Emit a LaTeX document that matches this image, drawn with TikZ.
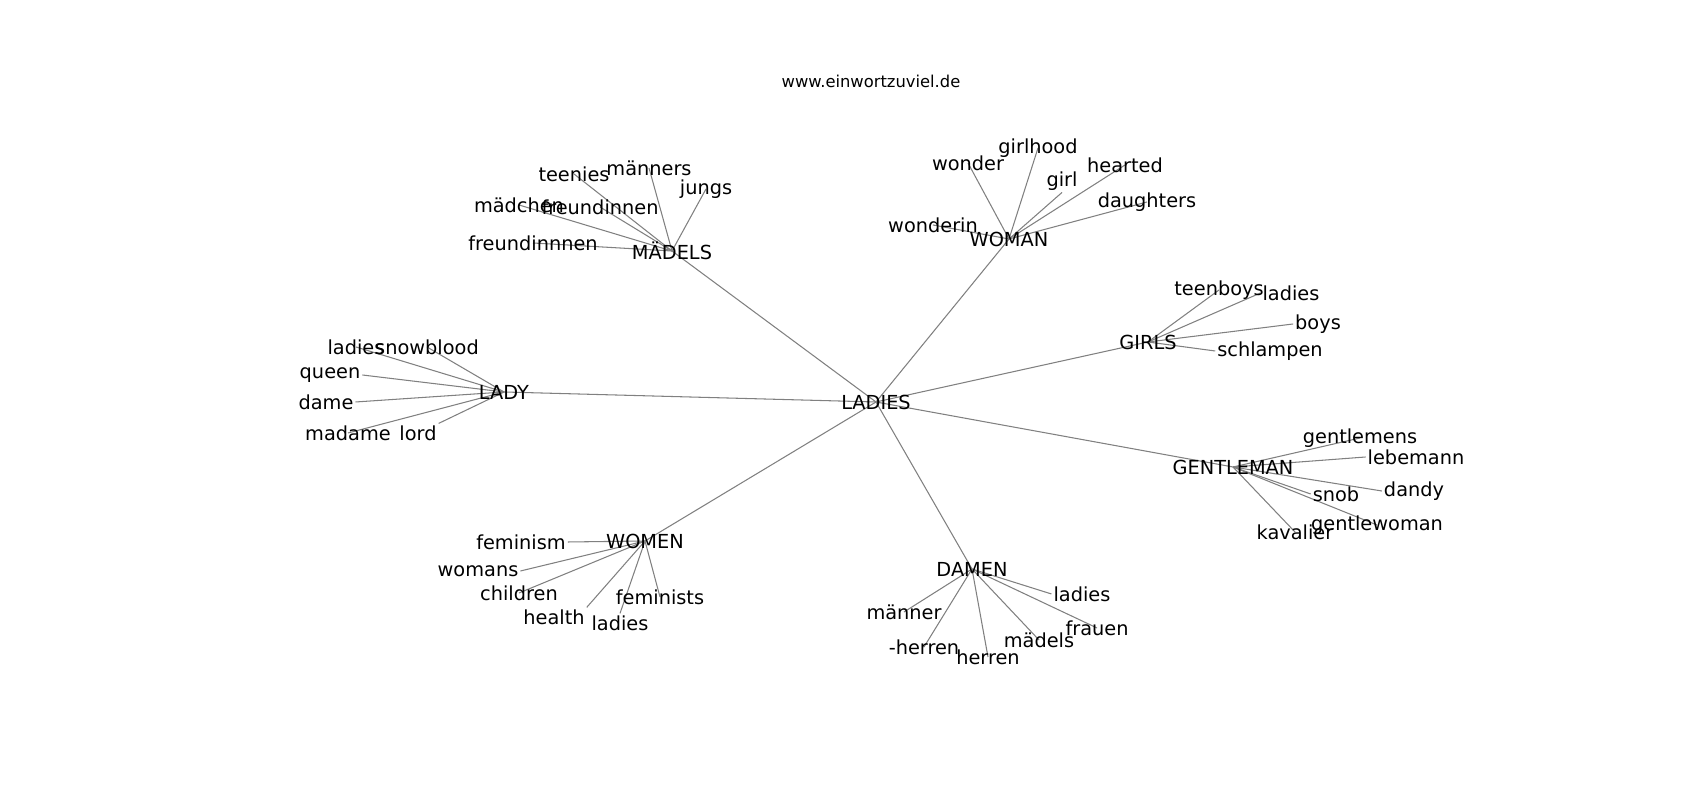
\documentclass[tikz,border=0pt]{standalone}
\usepackage{fontspec}
\setmainfont{DejaVu Sans}
\usepackage{tikz}
\usetikzlibrary{backgrounds}

\tikzset{
  word/.style={inner sep=1pt, font=\fontsize{11}{13}\selectfont},
  link/.style={draw=black!50, line width=0.6pt}
}

\begin{document}
\begin{tikzpicture}

          \useasboundingbox (0,0) rectangle (34,16);

          % Title
          \node[inner sep=0pt, font=\fontsize{9.3}{11}\selectfont] (title) at (17.42,14.38) {www.einwortzuviel.de};

          % Centre and hubs
          \node[word] (ladies) at (17.52,7.96) {LADIES};
          \node[word] (madels) at (13.44,10.98) {MÄDELS};
          \node[word] (woman) at (20.18,11.22) {WOMAN};
          \node[word] (lady) at (10.08,8.16) {LADY};
          \node[word] (girls) at (22.96,9.16) {GIRLS};
          \node[word] (gentleman) at (24.66,6.66) {GENTLEMAN};
          \node[word] (women) at (12.90,5.18) {WOMEN};
          \node[word] (damen) at (19.44,4.62) {DAMEN};

          % Words round MÄDELS
          \node[word] (teenies) at (11.48,12.52) {teenies};
          \node[word] (maenners) at (12.98,12.64) {männers};
          \node[word] (jungs) at (14.12,12.22) {jungs};
          \node[word] (maedchen) at (10.38,11.90) {mädchen};
          \node[word] (freundinnen) at (12.00,11.86) {freundinnen};
          \node[word] (freundinnnen) at (10.66,11.14) {freundinnnen};

          % Words round WOMAN
          \node[word] (wonder) at (19.36,12.74) {wonder};
          \node[word] (girlhood) at (20.76,13.04) {girlhood};
          \node[word] (girl) at (21.24,12.38) {girl};
          \node[word] (hearted) at (22.50,12.70) {hearted};
          \node[word] (daughters) at (22.94,11.96) {daughters};
          \node[word] (wonderin) at (18.66,11.50) {wonderin};

          % Words round LADY
          \node[word] (ladiesL) at (7.12,9.06) {ladies};
          \node[word] (snowblood) at (8.54,9.06) {snowblood};
          \node[word] (queen) at (6.60,8.50) {queen};
          \node[word] (dame) at (6.52,7.96) {dame};
          \node[word] (madame) at (6.96,7.34) {madame};
          \node[word] (lord) at (8.36,7.34) {lord};

          % Words round GIRLS
          \node[word] (teenboys) at (24.38,10.20) {teenboys};
          \node[word] (ladiesG) at (25.82,10.14) {ladies};
          \node[word] (boys) at (26.36,9.52) {boys};
          \node[word] (schlampen) at (25.40,8.98) {schlampen};

          % Words round GENTLEMAN
          \node[word] (gentlemens) at (27.20,7.24) {gentlemens};
          \node[word] (lebemann) at (28.32,6.86) {lebemann};
          \node[word] (dandy) at (28.28,6.18) {dandy};
          \node[word] (snob) at (26.72,6.12) {snob};
          \node[word] (gentlewoman) at (27.54,5.50) {gentlewoman};
          \node[word] (kavalier) at (25.90,5.36) {kavalier};

          % Words round WOMEN
          \node[word] (feminism) at (10.42,5.16) {feminism};
          \node[word] (womans) at (9.56,4.58) {womans};
          \node[word] (children) at (10.38,4.14) {children};
          \node[word] (health) at (11.08,3.66) {health};
          \node[word] (ladiesW) at (12.40,3.54) {ladies};
          \node[word] (feminists) at (13.20,4.06) {feminists};

          % Words round DAMEN
          \node[word] (maenner) at (18.08,3.76) {männer};
          \node[word] (herrenA) at (18.48,3.06) {-herren};
          \node[word] (herren) at (19.76,2.86) {herren};
          \node[word] (maedels) at (20.78,3.20) {mädels};
          \node[word] (ladiesD) at (21.64,4.12) {ladies};
          \node[word] (frauen) at (21.94,3.44) {frauen};

          % Connectors, behind the words
          \begin{pgfonlayer}{background}
          \draw[link] (ladies.center) -- (madels.center);
          \draw[link] (ladies.center) -- (woman.center);
          \draw[link] (ladies.center) -- (lady.center);
          \draw[link] (ladies.center) -- (girls.center);
          \draw[link] (ladies.center) -- (gentleman.center);
          \draw[link] (ladies.center) -- (women.center);
          \draw[link] (ladies.center) -- (damen.center);

          \draw[link] (madels.center) -- (teenies.center);
          \draw[link] (madels.center) -- (maenners.center);
          \draw[link] (madels.center) -- (jungs.center);
          \draw[link] (madels.center) -- (maedchen.center);
          \draw[link] (madels.center) -- (freundinnen.center);
          \draw[link] (madels.center) -- (freundinnnen.center);

          \draw[link] (woman.center) -- (wonder.center);
          \draw[link] (woman.center) -- (girlhood.center);
          \draw[link] (woman.center) -- (girl.south);
          \draw[link] (woman.center) -- (hearted.center);
          \draw[link] (woman.center) -- (daughters.center);
          \draw[link] (woman.center) -- (wonderin.center);

          \draw[link] (lady.center) -- (ladiesL.center);
          \draw[link] (lady.center) -- (snowblood.center);
          \draw[link] (lady.center) -- (queen.east);
          \draw[link] (lady.center) -- (dame.east);
          \draw[link] (lady.center) -- (madame.center);
          \draw[link] (lady.center) -- (lord.north east);

          \draw[link] (girls.center) -- (teenboys.center);
          \draw[link] (girls.center) -- (ladiesG.west);
          \draw[link] (girls.center) -- (boys.west);
          \draw[link] (girls.center) -- (schlampen.west);

          \draw[link] (gentleman.center) -- (gentlemens.center);
          \draw[link] (gentleman.center) -- (lebemann.west);
          \draw[link] (gentleman.center) -- (dandy.west);
          \draw[link] (gentleman.center) -- (snob.west);
          \draw[link] (gentleman.center) -- (gentlewoman.center);
          \draw[link] (gentleman.center) -- (kavalier.center);

          \draw[link] (women.center) -- (feminism.east);
          \draw[link] (women.center) -- (womans.east);
          \draw[link] (women.center) -- (children.center);
          \draw[link] (women.center) -- (health.north east);
          \draw[link] (women.center) -- (ladiesW.north);
          \draw[link] (women.center) -- (feminists.center);

          \draw[link] (damen.center) -- (maenner.center);
          \draw[link] (damen.center) -- (herrenA.center);
          \draw[link] (damen.center) -- (herren.center);
          \draw[link] (damen.center) -- (maedels.center);
          \draw[link] (damen.center) -- (ladiesD.west);
          \draw[link] (damen.center) -- (frauen.center);
          \end{pgfonlayer}

      \end{tikzpicture}
\end{document}
